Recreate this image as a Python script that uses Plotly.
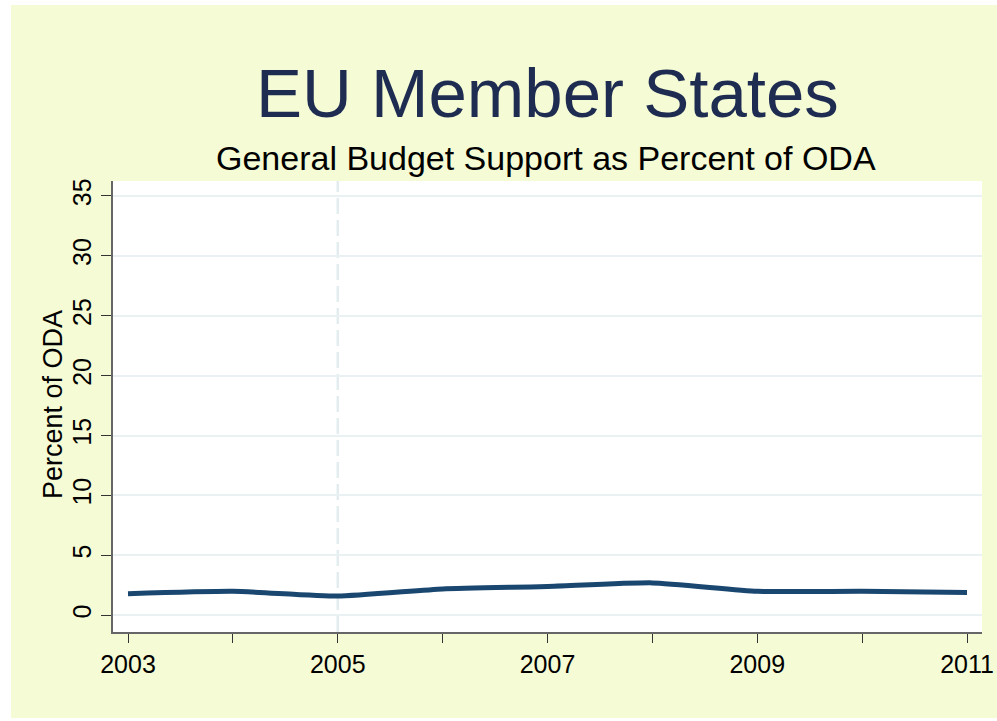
import plotly.graph_objects as go

years = [2003, 2004, 2005, 2006, 2007, 2008, 2009, 2010, 2011]
gbs_pct = [1.8, 2.0, 1.6, 2.2, 2.4, 2.7, 2.0, 2.0, 1.9]
x_tick_vals = list(range(2003, 2012))
x_tick_text = [str(y) if y % 2 == 1 else "" for y in x_tick_vals]
y_tick_vals = [0, 5, 10, 15, 20, 25, 30, 35]
ref_year = 2005

W, H = 997, 721
L, R, T, B = 113, 15, 181, 89
pw = W - L - R
ph = H - T - B

def px_x(p):
    return (p - L) / pw

def px_y(p):
    return (H - B - p) / ph

FONT = "Liberation Sans, Arial, sans-serif"

fig = go.Figure()
fig.add_trace(go.Scatter(
    x=years, y=gbs_pct, mode="lines",
    line=dict(color="#1a476f", width=5, shape="spline", smoothing=0.5),
    showlegend=False, hoverinfo="x+y",
))

shapes = [
    dict(type="rect", xref="paper", yref="paper",
         x0=px_x(11), x1=px_x(997), y0=px_y(718), y1=px_y(5),
         fillcolor="#f5fbd4", line=dict(width=0), layer="below"),
    dict(type="rect", xref="paper", yref="paper",
         x0=0, x1=1, y0=0, y1=1,
         fillcolor="white", line=dict(width=0), layer="below"),
    dict(type="line", xref="x", yref="paper",
         x0=ref_year, x1=ref_year, y0=0, y1=1,
         line=dict(color="#e3edf0", width=2.5, dash="16px,6px"), layer="below"),
]

fig.update_layout(
    width=W, height=H,
    margin=dict(l=L, r=R, t=T, b=B, pad=0, autoexpand=False),
    paper_bgcolor="white", plot_bgcolor="white",
    shapes=shapes,
    font=dict(family=FONT, color="black"),
    annotations=[
        dict(text="EU Member States", xref="paper", yref="paper",
             x=px_x(547), y=px_y(93), showarrow=False,
             font=dict(size=69, color="#1e2c52", family=FONT),
             xanchor="center", yanchor="middle"),
        dict(text="General Budget Support as Percent of ODA", xref="paper", yref="paper",
             x=px_x(546), y=px_y(158), showarrow=False,
             font=dict(size=34, color="black", family=FONT),
             xanchor="center", yanchor="middle"),
        dict(text="Percent of ODA", xref="paper", yref="paper",
             x=px_x(53), y=px_y(405), showarrow=False, textangle=-90,
             font=dict(size=27, color="black", family=FONT),
             xanchor="center", yanchor="middle"),
    ],
    xaxis=dict(
        range=[2002.857, 2011.143],
        tickvals=x_tick_vals, ticktext=x_tick_text,
        ticks="outside", ticklen=9, tickwidth=1.2, tickcolor="#333",
        showgrid=False, zeroline=False, automargin=False,
        showline=True, linecolor="#666", linewidth=1.5,
        tickfont=dict(size=25, color="black"),
    ),
    yaxis=dict(
        range=[-1.4, 36.25],
        tickvals=y_tick_vals,
        ticks="outside", ticklen=10, tickwidth=1.2, tickcolor="#333",
        showgrid=True, gridcolor="#eaf1f3", gridwidth=1.5,
        zeroline=False, automargin=False,
        showline=True, linecolor="#666", linewidth=1.5,
        tickangle=-90,
        tickfont=dict(size=25, color="black"),
    ),
)

fig.write_html("out.html", config={"displayModeBar": False},
               post_script="document.body.style.margin='0px';document.body.style.overflow='hidden';")
